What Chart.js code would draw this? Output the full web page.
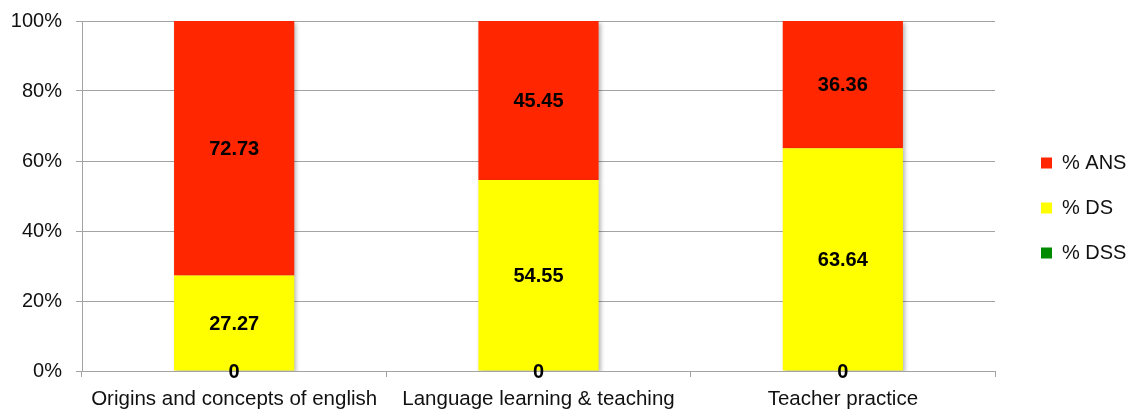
<!DOCTYPE html>
<html>
<head>
<meta charset="utf-8">
<script src="https://cdn.jsdelivr.net/npm/chart.js@4.4.1/dist/chart.umd.min.js"></script>
<style>
  html, body { margin: 0; padding: 0; background: #ffffff; }
  #wrap { width: 1130px; height: 411px; }
</style>
</head>
<body>
<div id="wrap"><canvas id="chart" width="1130" height="411"></canvas></div>
<script>
// Categories and stacked percentage values (bottom to top: DSS, DS, ANS)
const categories = ['Origins and concepts of english', 'Language learning & teaching', 'Teacher practice'];
const dssValues = [0, 0, 0];
const dsValues = [27.27, 54.55, 63.64];
const ansValues = [72.73, 45.45, 36.36];
const yTicks = [0, 20, 40, 60, 80, 100];

const FONT = '"Liberation Sans", Arial, Helvetica, sans-serif';
const GRID = '#a3a3a3';

// Soft drop shadow under bars, then value labels centred on each segment
const barDecor = {
  id: 'barDecor',
  beforeDatasetsDraw(chart) {
    const ctx = chart.ctx;
    ctx.save();
    ctx.shadowColor = 'rgba(0,0,0,0.28)';
    ctx.shadowBlur = 4;
    ctx.shadowOffsetX = 2;
    ctx.shadowOffsetY = 2;
  },
  afterDatasetsDraw(chart) {
    const ctx = chart.ctx;
    ctx.restore();
    ctx.save();
    ctx.font = 'bold 20px ' + FONT;
    ctx.fillStyle = '#000000';
    ctx.textAlign = 'center';
    ctx.textBaseline = 'middle';
    chart.data.datasets.forEach((ds, di) => {
      const meta = chart.getDatasetMeta(di);
      meta.data.forEach((bar, i) => {
        const v = ds.data[i];
        const text = v === 0 ? '0' : v.toFixed(2);
        const cy = (bar.y + bar.base) / 2;
        ctx.fillText(text, bar.x, cy + 1);
      });
    });
    ctx.restore();
  }
};

new Chart(document.getElementById('chart'), {
  type: 'bar',
  data: {
    labels: categories,
    datasets: [
      { label: '% DSS', data: dssValues, backgroundColor: '#008a00' },
      { label: '% DS', data: dsValues, backgroundColor: '#ffff00' },
      { label: '% ANS', data: ansValues, backgroundColor: '#ff2600' }
    ]
  },
  options: {
    responsive: false,
    animation: false,
    events: [],
    layout: { padding: { top: 5, left: 11, right: 0, bottom: 0 } },
    datasets: {
      bar: { categoryPercentage: 1.0, barPercentage: 0.395, borderWidth: 0 }
    },
    scales: {
      x: {
        stacked: true,
        offset: true,
        afterFit(scale) { scale.height = 40; },
        grid: { display: true, drawOnChartArea: false, drawTicks: true, tickLength: 6, color: GRID, offset: true },
        border: { display: true, color: GRID },
        ticks: { color: '#111111', font: { family: FONT, size: 20.5 }, padding: 10, maxRotation: 0, autoSkip: false }
      },
      y: {
        stacked: true,
        min: 0,
        max: 100,
        afterFit(scale) { scale.width = 71; scale.paddingTop = 21; scale.paddingBottom = 0; },
        afterBuildTicks(scale) { scale.ticks = yTicks.map(v => ({ value: v })); },
        grid: { color: GRID, tickLength: 6, lineWidth: 1 },
        border: { display: true, color: GRID },
        ticks: { color: '#111111', font: { family: FONT, size: 20 }, padding: 14, callback: v => v + '%' }
      },
      // empty spacer between plot and legend
      gap: {
        type: 'linear',
        position: 'right',
        display: true,
        grid: { display: false },
        border: { display: false },
        ticks: { display: false },
        afterFit(scale) { scale.width = 21; scale.paddingTop = 0; scale.paddingBottom = 0; }
      }
    },
    plugins: {
      legend: {
        position: 'right',
        reverse: true,
        maxWidth: 114,
        labels: {
          boxWidth: 11,
          boxHeight: 11,
          padding: 25,
          color: '#111111',
          font: { family: FONT, size: 20 }
        }
      },
      tooltip: { enabled: false }
    }
  },
  plugins: [barDecor]
});
</script>
</body>
</html>
